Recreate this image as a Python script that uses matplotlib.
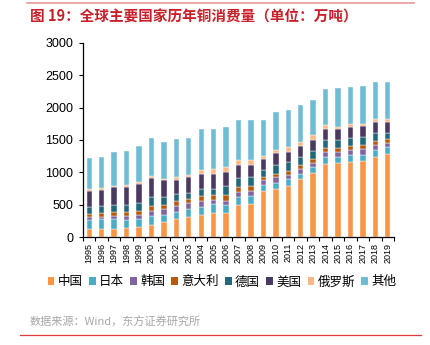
import matplotlib
matplotlib.use("Agg")
import matplotlib.pyplot as plt
from matplotlib.lines import Line2D
from matplotlib.patches import Patch
import numpy as np

plt.rcParams['font.family'] = ['Liberation Sans', 'Noto Sans CJK SC', 'DejaVu Sans']

years = [str(y) for y in range(1995, 2020)]
series_names = ["中国", "日本", "韩国", "意大利", "德国", "美国", "俄罗斯", "其他"]

china   = [118, 124, 129, 144, 154, 190, 226, 278, 309, 340, 365, 365, 489, 515, 705, 736, 787, 890, 983, 1132, 1137, 1163, 1173, 1240, 1281]
japan   = [139, 149, 149, 124, 124, 139, 114, 113, 118, 123, 139, 129, 123, 118, 93, 98, 103, 88, 93, 103, 98, 98, 98, 103, 103]
korea   = [47, 41, 51, 56, 67, 72, 87, 88, 98, 93, 67, 67, 83, 77, 87, 87, 72, 77, 72, 77, 72, 77, 82, 77, 62]
italy   = [56, 56, 52, 57, 62, 78, 67, 72, 62, 77, 72, 87, 72, 72, 41, 52, 57, 51, 56, 67, 62, 62, 62, 57, 62]
germany = [103, 103, 113, 118, 123, 139, 124, 108, 92, 103, 103, 139, 144, 139, 108, 144, 134, 129, 119, 118, 128, 123, 129, 123, 92]
usa     = [247, 252, 273, 278, 288, 293, 257, 226, 242, 242, 232, 211, 206, 196, 175, 180, 164, 165, 180, 170, 170, 180, 164, 180, 180]
russia  = [26, 26, 25, 26, 31, 26, 20, 36, 36, 56, 67, 78, 77, 77, 47, 46, 67, 67, 72, 62, 31, 36, 42, 37, 37]
other   = [489, 489, 520, 530, 556, 586, 577, 587, 577, 638, 627, 622, 612, 617, 555, 592, 577, 566, 540, 551, 597, 577, 581, 581, 576]

colors = ["#F79646", "#4BACC6", "#8064A2", "#B65A10", "#23687A", "#4A3960", "#FAB887", "#6EBDD4"]
series = [china, japan, korea, italy, germany, usa, russia, other]

fig = plt.figure(figsize=(4.31, 3.45), dpi=100)
ax = fig.add_axes([0.1926, 0.313, 0.7216, 0.563])

x = np.arange(len(years))
bottom = np.zeros(len(years))
for vals, col, name in zip(series, colors, series_names):
    vals = np.array(vals, dtype=float)
    ax.bar(x, vals, width=0.43, bottom=bottom, color=col, edgecolor="white",
           linewidth=0.3, label=name)
    bottom += vals

ax.set_xlim(-0.5, len(years) - 0.5)
ax.set_ylim(0, 3000)
ax.set_yticks(np.arange(0, 3001, 500))
ax.tick_params(axis='y', labelsize=9, length=3, width=0.8, pad=4, colors='black')
ax.set_xticks(x)
ax.set_xticklabels(years, rotation=90, fontsize=6.5)
ax.tick_params(axis='x', length=0, pad=4)
ax.set_xticks(np.arange(-0.5, len(years)), minor=True)
ax.tick_params(axis='x', which='minor', length=3, width=0.8)

for side in ("top", "right"):
    ax.spines[side].set_visible(False)
for side in ("left", "bottom"):
    ax.spines[side].set_linewidth(0.9)
    ax.spines[side].set_color("black")

handles = [Patch(facecolor=c, edgecolor='none') for c in colors]
fig.legend(handles, series_names, loc='center', bbox_to_anchor=(0.515, 0.183),
           ncol=8, frameon=False, handlelength=0.55, handleheight=0.55,
           handletextpad=0.25, columnspacing=0.5,
           prop={'family': ['Noto Sans CJK SC'], 'size': 9})

# header and footer
fig.add_artist(Line2D([27 / 431, 414 / 431], [1 - 3 / 345, 1 - 3 / 345],
                      color="#E99A9A", linewidth=1.2))
fig.text(30 / 431, 1 - 17 / 345, "图 19：全球主要国家历年铜消费量（单位：万吨）",
         color="#C8202A", fontsize=10.5, fontweight='bold', va='center', ha='left',
         family=['Noto Sans CJK SC'])
fig.text(30 / 431, 1 - 322 / 345, "数据来源：Wind，东方证券研究所",
         color="#A6A6A6", fontsize=8, va='center', ha='left',
         family=['Noto Sans CJK SC'])
fig.add_artist(Line2D([20 / 431, 421 / 431], [1 - 335 / 345, 1 - 335 / 345],
                      color="#E03C3C", linewidth=0.9))

fig.savefig("out.png", dpi=100)
